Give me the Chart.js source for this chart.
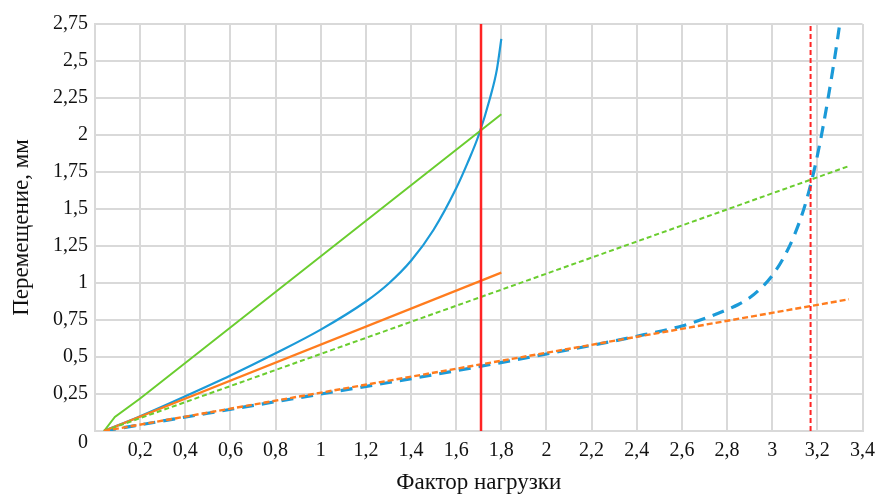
<!DOCTYPE html>
<html>
<head>
<meta charset="utf-8">
<script src="https://cdn.jsdelivr.net/npm/chart.js@4"></script>
<style>
  html, body { margin: 0; padding: 0; background: #fff; }
  canvas { display: block; }
  .preload { font-family: 'Liberation Serif'; position: absolute; left: -9999px; top: 0; }
</style>
</head>
<body>
<span class="preload">Фактор 0,25</span>
<canvas id="loadChart" width="883" height="497"></canvas>
<script>
// Axis ticks
const xTicks = [0, 0.2, 0.4, 0.6, 0.8, 1, 1.2, 1.4, 1.6, 1.8, 2, 2.2, 2.4, 2.6, 2.8, 3, 3.2, 3.4];
const yTicks = [0, 0.25, 0.5, 0.75, 1, 1.25, 1.5, 1.75, 2, 2.25, 2.5, 2.75];

// Solid series (first calculation)
const blueSolidX = [0.04, 0.2, 0.4, 0.6, 0.8, 1.0, 1.2, 1.3, 1.4, 1.5, 1.6, 1.65, 1.7, 1.75, 1.78, 1.8];
const blueSolidY = [0, 0.10, 0.235, 0.375, 0.525, 0.685, 0.875, 0.995, 1.15, 1.36, 1.64, 1.81, 2.0, 2.25, 2.44, 2.65];
const greenSolidX = [0.04, 0.088, 0.2, 1.8];
const greenSolidY = [0, 0.095, 0.22, 2.14];
const orangeSolidX = [0.04, 1.8];
const orangeSolidY = [0, 1.07];

// Dashed series (second calculation)
const blueDashX = [0.04, 0.5, 1.0, 1.5, 2.0, 2.4, 2.6, 2.7, 2.8, 2.85, 2.9, 2.95, 3.0, 3.05, 3.1, 3.15, 3.2, 3.25, 3.3, 3.31];
const blueDashY = [0, 0.12, 0.25, 0.38, 0.52, 0.64, 0.71, 0.76, 0.82, 0.855, 0.90, 0.965, 1.05, 1.17, 1.33, 1.55, 1.86, 2.27, 2.76, 2.88];
const greenDashX = [0.04, 3.34];
const greenDashY = [0, 1.79];
const orangeDashX = [0.04, 3.34];
const orangeDashY = [0, 0.89];

// Limit load factors (vertical markers)
const limitSolid = 1.71;
const limitDash = 3.17;

const yMax = 2.75;

function toPoints(xs, ys) {
    return xs.map((x, i) => ({ x: x, y: ys[i] }));
}

function fmt(v) {
    const r = Math.round(v * 100) / 100;
    return String(r).replace('.', ',');
}

const serif = "'Liberation Serif', 'Times New Roman', serif";
const textColor = '#111';
const gridColor = '#d9d9d9';

const line = (label, xs, ys, color, width, dash, order, curved) => ({
    label: label,
    data: toPoints(xs, ys),
    borderColor: color,
    backgroundColor: color,
    borderWidth: width,
    borderDash: dash,
    pointRadius: 0,
    showLine: true,
    tension: 0,
    cubicInterpolationMode: curved ? 'monotone' : 'default',
    fill: false,
    order: order
});

function drawChart() {
    const ctx = document.getElementById('loadChart').getContext('2d');
    window.loadChart = new Chart(ctx, {
        type: 'scatter',
        data: {
            datasets: [
                line('limit1', [limitSolid, limitSolid], [0, yMax], '#ff2424', 2.5, [], 0),
                line('limit2', [limitDash, limitDash], [0, yMax], '#ff2424', 2, [5, 3], 0),
                line('orangeDash', orangeDashX, orangeDashY, '#ff7c1e', 2.4, [6, 3], 1),
                line('greenDash', greenDashX, greenDashY, '#6acd2f', 2, [5, 3], 2),
                line('blueDash', blueDashX, blueDashY, '#1b9ad8', 3.2, [12, 8], 3, true),
                line('orange', orangeSolidX, orangeSolidY, '#ff7c1e', 2.2, [], 2),
                line('green', greenSolidX, greenSolidY, '#6acd2f', 2, [], 2),
                line('blue', blueSolidX, blueSolidY, '#1b9ad8', 2.2, [], 2, true)
            ]
        },
        options: {
            responsive: false,
            animation: false,
            devicePixelRatio: 1,
            layout: {
                padding: { top: 24, right: 15, left: 0, bottom: 0 }
            },
            plugins: {
                legend: { display: false },
                tooltip: { enabled: false }
            },
            scales: {
                x: {
                    type: 'linear',
                    min: 0,
                    max: 3.4,
                    afterBuildTicks: function (scale) {
                        scale.ticks = xTicks.map(v => ({ value: v }));
                    },
                    afterFit: function (scale) {
                        scale.height = 66;
                    },
                    grid: { color: gridColor, lineWidth: 2, drawTicks: false },
                    border: { color: gridColor, width: 2 },
                    ticks: {
                        padding: 8,
                        maxRotation: 0,
                        autoSkip: false,
                        color: textColor,
                        font: { family: serif, size: 20 },
                        callback: function (value) {
                            return value === 0 ? '' : fmt(value);
                        }
                    },
                    title: {
                        display: true,
                        text: 'Фактор нагрузки',
                        color: textColor,
                        font: { family: serif, size: 23 },
                        padding: { top: 0, bottom: 0 }
                    }
                },
                y: {
                    type: 'linear',
                    min: 0,
                    max: yMax,
                    afterBuildTicks: function (scale) {
                        scale.ticks = yTicks.map(v => ({ value: v }));
                    },
                    afterFit: function (scale) {
                        scale.width = 95;
                    },
                    grid: { color: gridColor, lineWidth: 2, drawTicks: false },
                    border: { color: gridColor, width: 2 },
                    ticks: {
                        padding: 7,
                        autoSkip: false,
                        color: textColor,
                        font: { family: serif, size: 20 },
                        callback: function (value) {
                            // the shared origin label sits a little lower, under the corner
                            return value === 0 ? ['', '0'] : fmt(value);
                        }
                    },
                    title: {
                        display: true,
                        text: 'Перемещение, мм',
                        color: textColor,
                        font: { family: serif, size: 23 },
                        padding: { top: 8, bottom: 0 }
                    }
                }
            }
        }
    });
}

// make sure the serif face is ready before the canvas text is drawn
Promise.all([
    document.fonts.load("20px 'Liberation Serif'"),
    document.fonts.load("20px 'Liberation Serif'", 'Фактор')
]).then(drawChart, drawChart);
</script>
</body>
</html>
